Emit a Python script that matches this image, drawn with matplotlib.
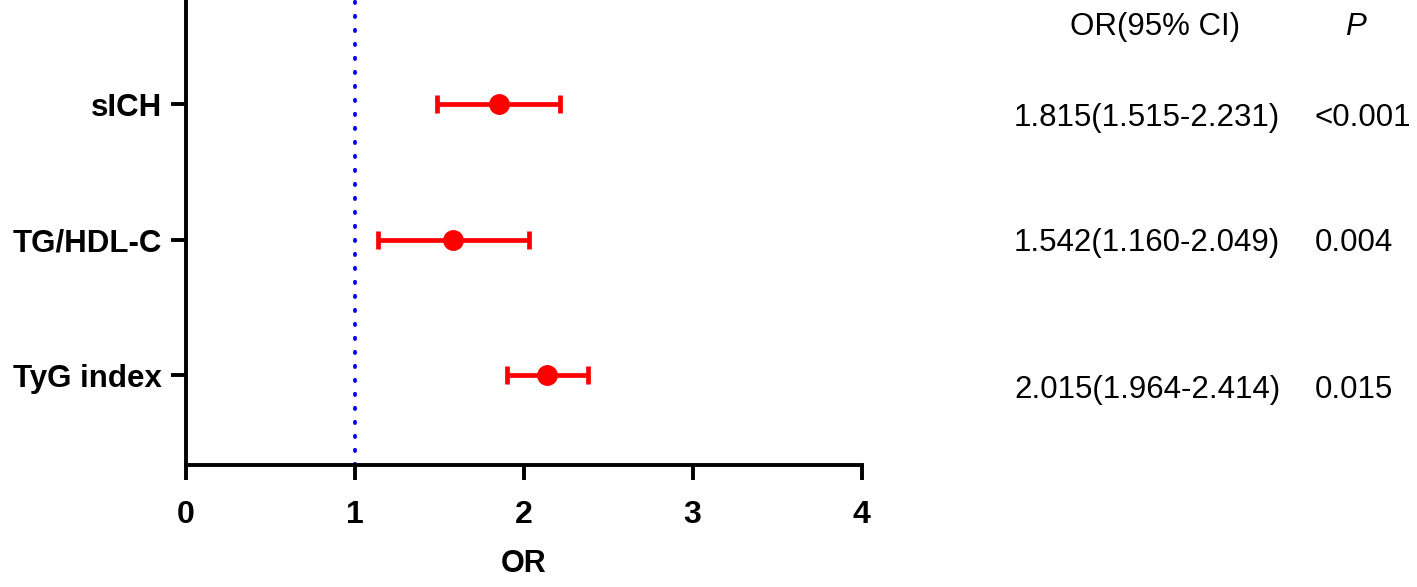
import matplotlib.pyplot as plt

# values
labels = ['sICH', 'TG/HDL-C', 'TyG index']
or_vals = [1.855, 1.58, 2.14]
ci_low = [1.49, 1.14, 1.90]
ci_high = [2.216, 2.03, 2.38]
or_text = ['1.815(1.515-2.231)', '1.542(1.160-2.049)', '2.015(1.964-2.414)']
p_text = ['<0.001', '0.004', '0.015']

plt.rcParams['font.family'] = ['Liberation Sans', 'DejaVu Sans']

fig = plt.figure(figsize=(14.17, 5.87), dpi=100)
ax = fig.add_axes([0.131, 0.208, 0.477, 0.792])

ypos = [3, 2, 1]
for y, o, lo, hi in zip(ypos, or_vals, ci_low, ci_high):
    ax.errorbar(o, y, xerr=[[o - lo], [hi - o]], fmt='o', color='red',
                ms=14, elinewidth=3.4, capsize=6.5, capthick=3.4)

ax.axvline(1, color='blue', linestyle=(0, (0.3, 3.3)), linewidth=2.8,
           dash_capstyle='round', zorder=0)

ax.set_xlim(0, 4)
ax.set_ylim(0.34, 3.77)
ax.set_xticks([0, 1, 2, 3, 4])
ax.set_yticks(ypos)
ax.set_yticklabels(labels, fontweight='bold', fontsize=22.5)
for t in ax.get_xticklabels():
    t.set_fontweight('bold')
    t.set_fontsize(23)
ax.set_xlabel('OR', fontweight='bold', fontsize=22, labelpad=14)

for s in ['top', 'right']:
    ax.spines[s].set_visible(False)
for s in ['left', 'bottom']:
    ax.spines[s].set_linewidth(2.8)
ax.tick_params(axis='both', width=2.8, length=11)
ax.tick_params(axis='x', pad=14)
ax.tick_params(axis='y', pad=6)

# right-side table
fs = 22.5
fig.text(1155 / 1417, 1 - 27 / 587, 'OR(95% CI)', ha='center', va='center', fontsize=fs)
fig.text(1355 / 1417, 1 - 27 / 587, 'P', ha='center', va='center', fontsize=fs, style='italic')
row_y = [118, 243, 390]
for ry, a, b in zip(row_y, or_text, p_text):
    yf = 1 - ry / 587
    fig.text(1147 / 1417, yf, a, ha='center', va='center', fontsize=fs)
    fig.text(1315 / 1417, yf, b, ha='left', va='center', fontsize=fs)

fig.savefig('out.png', dpi=100)
